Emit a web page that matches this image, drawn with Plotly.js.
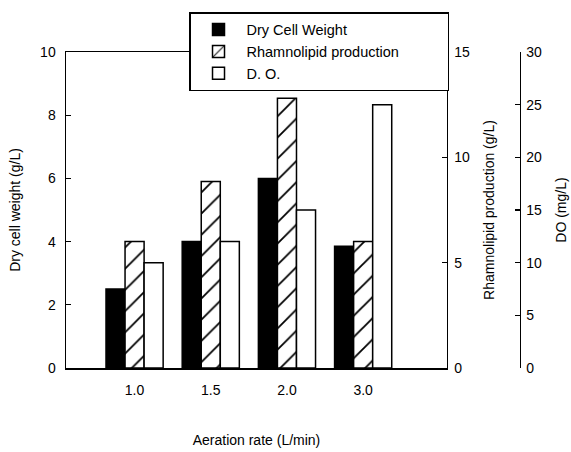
<!DOCTYPE html>
<html>
<head>
<meta charset="utf-8">
<script src="https://cdn.plot.ly/plotly-3.0.1.min.js"></script>
<style>html,body{margin:0;padding:0;background:#fff;}#chart{width:571px;height:452px;}</style>
</head>
<body>
<div id="chart"></div>
<script>
const aerationRates = ['1.0', '1.5', '2.0', '3.0'];
const dryCellWeight = [2.5, 4.0, 6.0, 3.85];
const rhamnolipid = [6.0, 8.85, 12.8, 6.0];
const dissolvedO2 = [10.0, 12.0, 15.0, 25.0];
const seriesNames = ['Dry Cell Weight', 'Rhamnolipid production', 'D. O.'];

const FONT = 'Liberation Sans, Arial, sans-serif';
const lineStyle = {color: '#000', width: 1.5};

const traces = [
  {type: 'bar', name: seriesNames[0], x: aerationRates, y: dryCellWeight, yaxis: 'y',
   width: 0.25, offset: -0.375, marker: {color: '#000', line: lineStyle}},
  {type: 'bar', name: seriesNames[1], x: aerationRates, y: rhamnolipid, yaxis: 'y2',
   width: 0.25, offset: -0.125,
   marker: {color: '#fff', line: lineStyle,
            pattern: {shape: '/', fgcolor: '#000', bgcolor: '#fff', size: 15, solidity: 0.12}}},
  {type: 'bar', name: seriesNames[2], x: aerationRates, y: dissolvedO2, yaxis: 'y3',
   width: 0.25, offset: 0.125, marker: {color: '#fff', line: lineStyle}}
];

const axisCommon = {
  showline: true, linecolor: '#000', linewidth: 1.5,
  ticks: 'inside', ticklen: 5, tickwidth: 1.2, tickcolor: '#000',
  showgrid: false, zeroline: false,
  tickfont: {family: FONT, size: 14, color: '#000'}
};

const layout = {
  width: 571, height: 452,
  margin: {l: 66, r: 46, t: 50, b: 84},
  paper_bgcolor: '#fff', plot_bgcolor: '#fff',
  font: {family: FONT, size: 14, color: '#000'},
  barmode: 'overlay',
  showlegend: true,
  legend: {
    orientation: 'h',
    x: 0.268, y: 1.126, xanchor: 'left', yanchor: 'top',
    bgcolor: '#fff', bordercolor: '#000', borderwidth: 1.5,
    font: {family: FONT, size: 14.5, color: '#000'},
    itemwidth: 46, tracegroupgap: 0, traceorder: 'normal',
    entrywidthmode: 'pixels', entrywidth: 196
  },
  xaxis: {
    type: 'category', domain: [0, 0.83], range: [-0.9, 4.1],
    showline: true, linecolor: '#000', linewidth: 1.5, mirror: true,
    ticks: '', showgrid: false, zeroline: false, ticklabelstandoff: 9,
    tickfont: {family: FONT, size: 14, color: '#000'},
    title: {text: 'Aeration rate (L/min)', font: {family: FONT, size: 14}, standoff: 38}
  },
  yaxis: Object.assign({}, axisCommon, {
    range: [0, 10], dtick: 2, anchor: 'x', side: 'left', ticklabelstandoff: 6,
    title: {text: 'Dry cell weight (g/L)', font: {family: FONT, size: 14}, standoff: 16}
  }),
  yaxis2: Object.assign({}, axisCommon, {
    range: [0, 15], dtick: 5, anchor: 'x', side: 'right', overlaying: 'y', ticklabelstandoff: 3,
    title: {text: 'Rhamnolipid production (g/L)', font: {family: FONT, size: 14}, standoff: 15}
  }),
  yaxis3: Object.assign({}, axisCommon, {
    range: [0, 30], dtick: 5, anchor: 'free', position: 0.989, side: 'right', overlaying: 'y', ticklabelstandoff: 2,
    title: {text: 'DO (mg/L)', font: {family: FONT, size: 14}, standoff: 15}
  })
};

Plotly.newPlot('chart', traces, layout, {displayModeBar: false, staticPlot: true});
</script>
</body>
</html>
